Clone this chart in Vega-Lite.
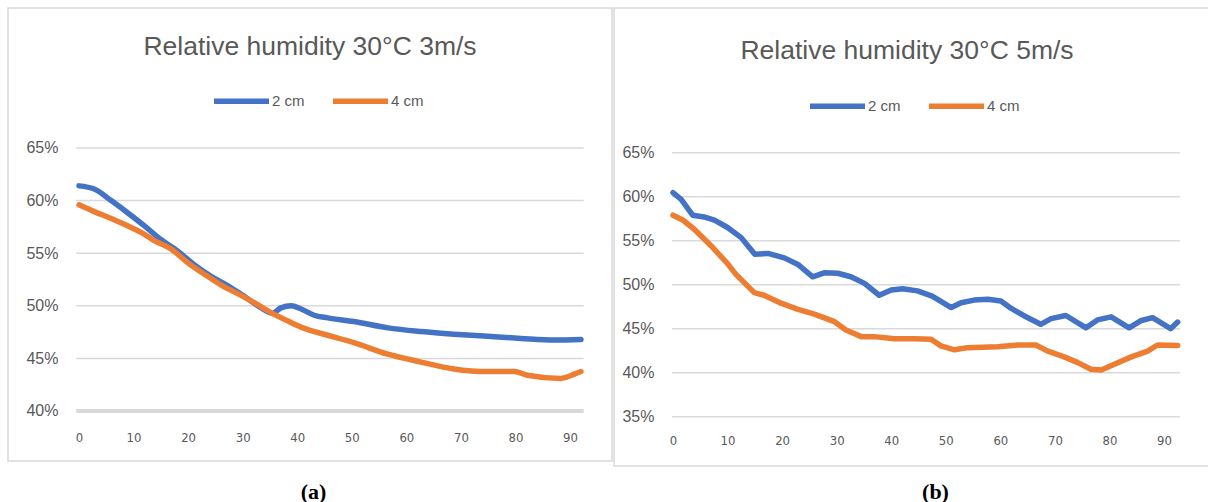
{
  "$schema": "https://vega.github.io/schema/vega-lite/v6.json",
  "background": "white",
  "padding": {"left": 7, "top": 7, "right": 0, "bottom": 0},
  "spacing": 0,
  "datasets": {
    "a": [
      {"t": 0, "s": "2 cm", "v": 0.614}, {"t": 2.8, "s": "2 cm", "v": 0.611}, {"t": 5.9, "s": "2 cm", "v": 0.600}, {"t": 8.9, "s": "2 cm", "v": 0.5885}, {"t": 12.0, "s": "2 cm", "v": 0.576}, {"t": 15.0, "s": "2 cm", "v": 0.563}, {"t": 18.1, "s": "2 cm", "v": 0.552}, {"t": 21.1, "s": "2 cm", "v": 0.539}, {"t": 24.2, "s": "2 cm", "v": 0.528}, {"t": 27.3, "s": "2 cm", "v": 0.519}, {"t": 30.3, "s": "2 cm", "v": 0.509}, {"t": 33.4, "s": "2 cm", "v": 0.498}, {"t": 35.5, "s": "2 cm", "v": 0.493}, {"t": 37.0, "s": "2 cm", "v": 0.498}, {"t": 38.9, "s": "2 cm", "v": 0.500}, {"t": 40.7, "s": "2 cm", "v": 0.497}, {"t": 43.1, "s": "2 cm", "v": 0.491}, {"t": 45.6, "s": "2 cm", "v": 0.4885}, {"t": 50.4, "s": "2 cm", "v": 0.485}, {"t": 56.6, "s": "2 cm", "v": 0.479}, {"t": 62.7, "s": "2 cm", "v": 0.4755}, {"t": 68.7, "s": "2 cm", "v": 0.473}, {"t": 74.9, "s": "2 cm", "v": 0.471}, {"t": 81.0, "s": "2 cm", "v": 0.469}, {"t": 87.1, "s": "2 cm", "v": 0.4675}, {"t": 92, "s": "2 cm", "v": 0.468},
      {"t": 0, "s": "4 cm", "v": 0.596}, {"t": 2.8, "s": "4 cm", "v": 0.5895}, {"t": 5.9, "s": "4 cm", "v": 0.583}, {"t": 8.9, "s": "4 cm", "v": 0.576}, {"t": 12.0, "s": "4 cm", "v": 0.568}, {"t": 13.8, "s": "4 cm", "v": 0.562}, {"t": 16.9, "s": "4 cm", "v": 0.554}, {"t": 19.9, "s": "4 cm", "v": 0.541}, {"t": 23.0, "s": "4 cm", "v": 0.530}, {"t": 26.0, "s": "4 cm", "v": 0.520}, {"t": 29.1, "s": "4 cm", "v": 0.5115}, {"t": 32.1, "s": "4 cm", "v": 0.503}, {"t": 35.2, "s": "4 cm", "v": 0.4935}, {"t": 38.3, "s": "4 cm", "v": 0.4855}, {"t": 41.3, "s": "4 cm", "v": 0.4785}, {"t": 45.6, "s": "4 cm", "v": 0.472}, {"t": 50.4, "s": "4 cm", "v": 0.465}, {"t": 56.6, "s": "4 cm", "v": 0.454}, {"t": 62.7, "s": "4 cm", "v": 0.4465}, {"t": 68.7, "s": "4 cm", "v": 0.440}, {"t": 74.9, "s": "4 cm", "v": 0.4375}, {"t": 79.8, "s": "4 cm", "v": 0.4375}, {"t": 82.2, "s": "4 cm", "v": 0.434}, {"t": 88.3, "s": "4 cm", "v": 0.431}, {"t": 90.8, "s": "4 cm", "v": 0.435}, {"t": 92, "s": "4 cm", "v": 0.4375}
    ],
    "b": [
      {"t": 0, "s": "2 cm", "v": 0.6045}, {"t": 1.5, "s": "2 cm", "v": 0.597}, {"t": 3.6, "s": "2 cm", "v": 0.579}, {"t": 5.7, "s": "2 cm", "v": 0.577}, {"t": 7.6, "s": "2 cm", "v": 0.5735}, {"t": 10.0, "s": "2 cm", "v": 0.565}, {"t": 12.5, "s": "2 cm", "v": 0.5535}, {"t": 15.0, "s": "2 cm", "v": 0.5345}, {"t": 17.4, "s": "2 cm", "v": 0.5355}, {"t": 20.4, "s": "2 cm", "v": 0.5305}, {"t": 22.9, "s": "2 cm", "v": 0.523}, {"t": 25.6, "s": "2 cm", "v": 0.509}, {"t": 27.7, "s": "2 cm", "v": 0.5135}, {"t": 30.2, "s": "2 cm", "v": 0.513}, {"t": 32.6, "s": "2 cm", "v": 0.509}, {"t": 35.1, "s": "2 cm", "v": 0.5015}, {"t": 37.8, "s": "2 cm", "v": 0.488}, {"t": 40.0, "s": "2 cm", "v": 0.494}, {"t": 42.1, "s": "2 cm", "v": 0.4955}, {"t": 44.8, "s": "2 cm", "v": 0.493}, {"t": 47.5, "s": "2 cm", "v": 0.487}, {"t": 51.0, "s": "2 cm", "v": 0.474}, {"t": 52.8, "s": "2 cm", "v": 0.4795}, {"t": 55.2, "s": "2 cm", "v": 0.4825}, {"t": 57.7, "s": "2 cm", "v": 0.4835}, {"t": 60.1, "s": "2 cm", "v": 0.4815}, {"t": 62.0, "s": "2 cm", "v": 0.473}, {"t": 64.4, "s": "2 cm", "v": 0.4645}, {"t": 67.4, "s": "2 cm", "v": 0.455}, {"t": 69.3, "s": "2 cm", "v": 0.4615}, {"t": 72.0, "s": "2 cm", "v": 0.465}, {"t": 75.7, "s": "2 cm", "v": 0.451}, {"t": 77.8, "s": "2 cm", "v": 0.460}, {"t": 80.3, "s": "2 cm", "v": 0.4635}, {"t": 83.6, "s": "2 cm", "v": 0.451}, {"t": 85.7, "s": "2 cm", "v": 0.459}, {"t": 87.9, "s": "2 cm", "v": 0.4625}, {"t": 91.2, "s": "2 cm", "v": 0.450}, {"t": 92.5, "s": "2 cm", "v": 0.4575},
      {"t": 0, "s": "4 cm", "v": 0.579}, {"t": 1.8, "s": "4 cm", "v": 0.5735}, {"t": 3.9, "s": "4 cm", "v": 0.563}, {"t": 7.0, "s": "4 cm", "v": 0.544}, {"t": 10.0, "s": "4 cm", "v": 0.524}, {"t": 11.5, "s": "4 cm", "v": 0.512}, {"t": 14.9, "s": "4 cm", "v": 0.491}, {"t": 16.7, "s": "4 cm", "v": 0.488}, {"t": 19.8, "s": "4 cm", "v": 0.479}, {"t": 22.9, "s": "4 cm", "v": 0.472}, {"t": 25.9, "s": "4 cm", "v": 0.4665}, {"t": 29.6, "s": "4 cm", "v": 0.458}, {"t": 31.7, "s": "4 cm", "v": 0.4485}, {"t": 34.5, "s": "4 cm", "v": 0.441}, {"t": 36.9, "s": "4 cm", "v": 0.441}, {"t": 40.6, "s": "4 cm", "v": 0.4385}, {"t": 44.2, "s": "4 cm", "v": 0.4385}, {"t": 47.3, "s": "4 cm", "v": 0.438}, {"t": 49.1, "s": "4 cm", "v": 0.4305}, {"t": 51.6, "s": "4 cm", "v": 0.426}, {"t": 54.0, "s": "4 cm", "v": 0.4285}, {"t": 59.5, "s": "4 cm", "v": 0.4295}, {"t": 63.2, "s": "4 cm", "v": 0.4315}, {"t": 66.5, "s": "4 cm", "v": 0.4315}, {"t": 68.7, "s": "4 cm", "v": 0.4245}, {"t": 71.7, "s": "4 cm", "v": 0.418}, {"t": 74.2, "s": "4 cm", "v": 0.4115}, {"t": 76.6, "s": "4 cm", "v": 0.404}, {"t": 78.5, "s": "4 cm", "v": 0.403}, {"t": 80.9, "s": "4 cm", "v": 0.4095}, {"t": 84.0, "s": "4 cm", "v": 0.418}, {"t": 87.0, "s": "4 cm", "v": 0.4245}, {"t": 88.8, "s": "4 cm", "v": 0.4315}, {"t": 92.5, "s": "4 cm", "v": 0.431}
    ]
  },
  "hconcat": [
    {
      "width": 604,
      "height": 453,
      "title": {"text": "Relative humidity 30°C 3m/s", "offset": -40, "dy": 25, "baseline": "middle", "frame": "group", "anchor": "middle", "font": "Liberation Sans", "fontSize": 26.5, "fontWeight": "normal", "color": "#595959"},
      "encoding": {
        "x": {"field": "t", "type": "quantitative", "scale": {"domain": [-13.01, 97.69], "nice": false, "zero": false},
          "axis": {"values": [0, 10, 20, 30, 40, 50, 60, 70, 80, 90], "offset": -50, "domain": false, "ticks": false, "grid": false, "labelPadding": 20, "labelFont": "Liberation Sans Narrow, DejaVu Sans Condensed, sans-serif", "labelFontSize": 13, "labelColor": "#595959",
            "title": "(a)", "titleFont": "Liberation Serif", "titleFontWeight": "bold", "titleFontSize": 22, "titleColor": "#000000", "titleX": 305, "titleY": 87, "titleBaseline": "alphabetic", "titleAlign": "center"}},
        "y": {"field": "v", "type": "quantitative", "scale": {"domain": [0.35247, 0.78308], "nice": false, "zero": false},
          "axis": {"values": [0.4, 0.45, 0.5, 0.55, 0.6, 0.65], "format": ".0%", "offset": -50, "domain": false, "ticks": false, "grid": false, "labelPadding": 0, "labelFont": "Liberation Sans", "labelFontSize": 16, "labelColor": "#595959", "title": null}}
      },
      "layer": [
        {"data": {"values": [{"v": 0.45, "t": -0.5, "t2": 92.5}, {"v": 0.5, "t": -0.5, "t2": 92.5}, {"v": 0.55, "t": -0.5, "t2": 92.5}, {"v": 0.6, "t": -0.5, "t2": 92.5}, {"v": 0.65, "t": -0.5, "t2": 92.5}]},
         "mark": {"type": "rule", "color": "#d9d9d9", "strokeWidth": 1.5},
         "encoding": {"x2": {"field": "t2"}}},
        {"data": {"values": [{"v": 0.4, "t": -0.5, "t2": 92.5}]},
         "mark": {"type": "rule", "color": "#d9d9d9", "strokeWidth": 4},
         "encoding": {"x2": {"field": "t2"}}},
        {"data": {"name": "a"},
         "mark": {"type": "line", "strokeWidth": 5.5, "interpolate": "monotone", "strokeCap": "round", "strokeJoin": "round"},
         "encoding": {
           "color": {"field": "s", "type": "nominal", "scale": {"domain": ["2 cm", "4 cm"], "range": ["#4472C4", "#ED7D31"]},
             "legend": {"orient": "none", "legendX": 203, "legendY": 62.5, "direction": "horizontal", "title": null, "symbolType": "stroke", "symbolSize": 3025, "symbolStrokeWidth": 5.5, "labelFont": "Liberation Sans", "labelFontSize": 15, "labelColor": "#595959", "labelOffset": 0, "columnPadding": 17}}}}
      ]
    },
    {
      "width": 595,
      "height": 458,
      "title": {"text": "Relative humidity 30°C 5m/s", "offset": -45, "dy": 24, "dx": -4.5, "baseline": "middle", "frame": "group", "anchor": "middle", "font": "Liberation Sans", "fontSize": 26.5, "fontWeight": "normal", "color": "#595959"},
      "encoding": {
        "x": {"field": "t", "type": "quantitative", "scale": {"domain": [-10.81, 98.24], "nice": false, "zero": false},
          "axis": {"values": [0, 10, 20, 30, 40, 50, 60, 70, 80, 90], "offset": -49, "domain": false, "ticks": false, "grid": false, "labelPadding": 17, "labelFont": "Liberation Sans Narrow, DejaVu Sans Condensed, sans-serif", "labelFontSize": 13, "labelColor": "#595959",
            "title": "(b)", "titleFont": "Liberation Serif", "titleFontWeight": "bold", "titleFontSize": 22, "titleColor": "#000000", "titleX": 321, "titleY": 81, "titleBaseline": "alphabetic", "titleAlign": "center"}},
        "y": {"field": "v", "type": "quantitative", "scale": {"domain": [0.294, 0.8144], "nice": false, "zero": false},
          "axis": {"values": [0.35, 0.4, 0.45, 0.5, 0.55, 0.6, 0.65], "format": ".0%", "offset": -40, "domain": false, "ticks": false, "grid": false, "labelPadding": 0, "labelFont": "Liberation Sans", "labelFontSize": 16, "labelColor": "#595959", "title": null}}
      },
      "layer": [
        {"data": {"values": [{"v": 0.35, "t": -0.2, "t2": 92.9}, {"v": 0.4, "t": -0.2, "t2": 92.9}, {"v": 0.45, "t": -0.2, "t2": 92.9}, {"v": 0.5, "t": -0.2, "t2": 92.9}, {"v": 0.55, "t": -0.2, "t2": 92.9}, {"v": 0.6, "t": -0.2, "t2": 92.9}, {"v": 0.65, "t": -0.2, "t2": 92.9}]},
         "mark": {"type": "rule", "color": "#d9d9d9", "strokeWidth": 1.5},
         "encoding": {"x2": {"field": "t2"}}},
        {"data": {"name": "b"},
         "mark": {"type": "line", "strokeWidth": 5.5, "interpolate": "linear", "strokeCap": "round", "strokeJoin": "round"},
         "encoding": {
           "color": {"field": "s", "type": "nominal", "scale": {"domain": ["2 cm", "4 cm"], "range": ["#4472C4", "#ED7D31"]},
             "legend": {"orient": "none", "legendX": 193, "legendY": 67.5, "direction": "horizontal", "title": null, "symbolType": "stroke", "symbolSize": 3025, "symbolStrokeWidth": 5.5, "labelFont": "Liberation Sans", "labelFontSize": 15, "labelColor": "#595959", "labelOffset": 0, "columnPadding": 17}}}}
      ]
    }
  ],
  "resolve": {"scale": {"color": "independent"}, "legend": {"color": "independent"}},
  "config": {"view": {"stroke": "#d9d9d9", "strokeWidth": 1.5}, "font": "Liberation Sans"}
}
